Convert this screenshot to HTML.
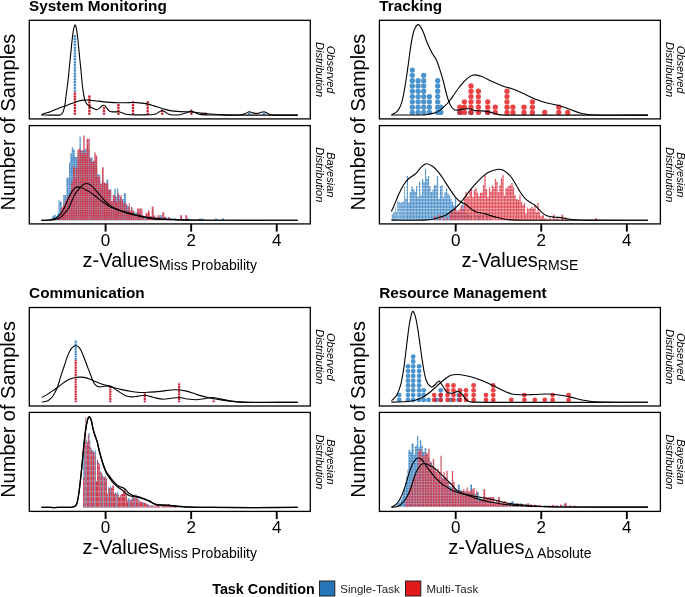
<!DOCTYPE html>
<html><head><meta charset="utf-8"><style>
html,body{margin:0;padding:0;background:#fff;}
svg{display:block;font-family:'Liberation Sans', sans-serif;will-change:transform;}
</style></head><body>
<svg width="685" height="597" viewBox="0 0 685 597">
<rect width="685" height="597" fill="#fff"/>
<defs>
<pattern id="pTRb" width="3" height="3.3" patternUnits="userSpaceOnUse"><rect width="3" height="3.3" fill="#4D90C9"/><rect width="3" height="0.7" fill="#A9CCE6"/></pattern>
<pattern id="pTRr" width="3" height="3.3" patternUnits="userSpaceOnUse"><rect width="3" height="3.3" fill="#DD3A47"/><rect width="3" height="0.7" fill="#EE9CA2"/></pattern>
<pattern id="pSMb" width="2.2" height="2.2" patternUnits="userSpaceOnUse"><rect width="2.2" height="2.2" fill="#4289C6"/><rect width="2.2" height="0.5" fill="#A6C8E4"/><rect width="0.5" height="2.2" fill="#A6C8E4"/></pattern>
<pattern id="pSMr" width="2.2" height="2.2" patternUnits="userSpaceOnUse"><rect width="2.2" height="2.2" fill="#DD2E3C"/><rect width="2.2" height="0.38" fill="#A48CB2"/><rect width="0.38" height="2.2" fill="#A48CB2"/></pattern>
</defs>
<defs>
<pattern id="pRMb" width="2.7" height="2.75" patternUnits="userSpaceOnUse"><rect width="2.7" height="2.75" fill="#4289C6"/><rect width="2.7" height="0.6" fill="#A6C8E4"/><rect width="0.6" height="2.75" fill="#A6C8E4"/></pattern>
<pattern id="pRMr" width="2.7" height="2.75" patternUnits="userSpaceOnUse"><rect width="2.7" height="2.75" fill="#DB3240"/><rect width="2.7" height="0.5" fill="#BE9DB9"/><rect width="0.5" height="2.75" fill="#BE9DB9"/></pattern>
<pattern id="pCOb" width="4.4" height="5.2" patternUnits="userSpaceOnUse"><rect width="4.4" height="5.2" fill="#5A9ACD"/><rect y="2" width="4.4" height="0.9" fill="#A5C6E2"/><rect x="2" width="0.8" height="5.2" fill="#A5C6E2"/></pattern>
<pattern id="pCOr" width="4.4" height="5.2" patternUnits="userSpaceOnUse"><rect width="4.4" height="5.2" fill="#D73442"/><rect y="2" width="4.4" height="0.9" fill="#D98F9B"/><rect x="2" width="0.7" height="5.2" fill="#C593AA"/></pattern>
</defs>
<g transform="translate(0,0.2)">
<path d="M50.75,220.00V218.50H52.30V220.00ZM52.30,220.00V215.60H54.05V220.00ZM54.05,220.00V214.50H55.75V220.00ZM55.75,220.00V216.00H57.00V220.00ZM57.00,220.00V213.30H58.50V220.00ZM58.50,220.00V200.20H60.25V220.00ZM60.25,220.00V201.70H61.75V220.00ZM61.75,220.00V211.00H63.25V220.00ZM63.25,220.00V194.90H64.75V220.00ZM64.75,220.00V194.80H66.25V220.00ZM66.25,220.00V177.80H67.75V220.00ZM67.75,220.00V177.00H69.00V220.00ZM69.00,220.00V162.40H70.25V220.00ZM70.25,220.00V153.00H71.75V220.00ZM71.75,220.00V147.00H73.25V220.00ZM73.25,220.00V149.30H74.75V220.00ZM74.75,220.00V156.50H76.25V220.00ZM76.25,220.00V157.10H77.80V220.00ZM77.80,220.00V159.90H79.30V220.00ZM79.30,220.00V136.20H80.75V220.00ZM80.75,220.00V150.00H82.25V220.00ZM82.25,220.00V150.00H83.75V220.00ZM83.75,220.00V150.00H85.25V220.00ZM85.25,220.00V148.50H86.75V220.00ZM86.75,220.00V150.00H88.25V220.00ZM88.25,220.00V150.00H89.75V220.00ZM89.75,220.00V158.00H91.25V220.00ZM91.25,220.00V157.00H92.75V220.00ZM92.75,220.00V162.00H94.25V220.00ZM94.25,220.00V160.00H95.75V220.00ZM95.75,220.00V165.00H97.25V220.00ZM97.25,220.00V174.00H98.75V220.00ZM98.75,220.00V174.50H100.25V220.00ZM100.25,220.00V184.00H101.75V220.00ZM101.75,220.00V180.00H103.25V220.00ZM103.25,220.00V183.00H104.75V220.00ZM104.75,220.00V183.00H106.50V220.00ZM106.50,220.00V179.30H108.25V220.00ZM108.25,220.00V189.40H109.75V220.00ZM109.75,220.00V189.00H111.25V220.00ZM111.25,220.00V201.00H112.75V220.00ZM112.75,220.00V195.00H114.25V220.00ZM114.25,220.00V188.60H115.75V220.00ZM115.75,220.00V196.00H117.00V220.00ZM117.00,220.00V188.00H118.25V220.00ZM118.25,220.00V195.00H120.00V220.00ZM120.00,220.00V198.00H122.00V220.00ZM122.00,220.00V199.00H123.60V220.00ZM123.60,220.00V193.00H124.70V220.00ZM124.70,220.00V193.00H126.10V220.00ZM126.10,220.00V205.00H128.00V220.00ZM128.00,220.00V206.00H129.75V220.00ZM129.75,220.00V212.40H131.25V220.00ZM131.25,220.00V209.00H132.75V220.00ZM132.75,220.00V211.00H134.75V220.00ZM135.25,220.00V212.00H137.25V220.00ZM137.25,220.00V213.00H139.00V220.00ZM139.00,220.00V213.00H141.25V220.00ZM141.75,220.00V215.20H144.00V220.00ZM144.00,220.00V218.00H146.00V220.00ZM146.00,220.00V216.00H148.25V220.00ZM148.75,220.00V216.50H151.25V220.00ZM151.75,220.00V216.50H154.25V220.00ZM154.75,220.00V217.00H157.25V220.00ZM157.25,220.00V217.00H159.75V220.00ZM159.75,220.00V215.00H162.25V220.00ZM162.75,220.00V217.50H165.00V220.00ZM165.00,220.00V217.00H167.00V220.00ZM167.00,220.00V218.50H169.00V220.00ZM169.00,220.00V217.80H171.00V220.00ZM171.00,220.00V218.00H173.25V220.00ZM173.75,220.00V218.00H176.00V220.00ZM176.00,220.00V219.00H178.25V220.00ZM186.75,220.00V218.00H189.25V220.00ZM198.75,220.00V218.20H201.00V220.00ZM201.00,220.00V218.20H203.25V220.00ZM214.75,220.00V218.20H217.25V220.00ZM221.75,220.00V217.80H223.75V220.00Z" fill="url(#pSMb)" fill-opacity="1.0"/>
<path d="M57.31,220.00V216.30H58.94V220.00ZM59.06,220.00V213.30H60.94V220.00ZM61.06,220.00V207.00H62.94V220.00ZM63.06,220.00V204.00H64.94V220.00ZM65.06,220.00V200.00H66.69V220.00ZM66.81,220.00V196.50H68.19V220.00ZM68.31,220.00V195.00H69.69V220.00ZM69.81,220.00V194.80H70.94V220.00ZM71.06,220.00V183.00H71.94V220.00ZM72.06,220.00V181.00H72.94V220.00ZM73.06,220.00V166.20H74.19V220.00ZM74.31,220.00V167.00H75.24V220.00ZM75.36,220.00V177.40H75.99V220.00ZM76.11,220.00V168.10H77.19V220.00ZM77.31,220.00V149.60H78.69V220.00ZM78.81,220.00V148.20H80.19V220.00ZM80.31,220.00V150.00H81.69V220.00ZM81.81,220.00V153.10H83.19V220.00ZM83.31,220.00V135.40H84.69V220.00ZM84.81,220.00V153.00H86.44V220.00ZM86.56,220.00V138.50H88.19V220.00ZM88.31,220.00V138.50H89.69V220.00ZM89.81,220.00V157.80H91.19V220.00ZM91.31,220.00V161.60H92.69V220.00ZM92.81,220.00V160.80H94.19V220.00ZM94.31,220.00V152.40H95.69V220.00ZM95.81,220.00V155.40H97.19V220.00ZM97.31,220.00V176.30H98.69V220.00ZM98.81,220.00V176.30H100.19V220.00ZM100.31,220.00V183.20H101.94V220.00ZM102.06,220.00V167.00H103.69V220.00ZM103.81,220.00V182.40H105.19V220.00ZM105.31,220.00V183.20H106.69V220.00ZM106.81,220.00V183.00H108.19V220.00ZM108.31,220.00V189.40H109.69V220.00ZM109.81,220.00V190.10H111.19V220.00ZM111.31,220.00V200.90H112.69V220.00ZM112.81,220.00V194.80H114.19V220.00ZM114.31,220.00V195.50H115.69V220.00ZM115.81,220.00V201.50H117.39V220.00ZM117.51,220.00V193.00H118.89V220.00ZM119.01,220.00V200.40H119.89V220.00ZM120.01,220.00V196.00H120.74V220.00ZM120.86,220.00V194.80H121.79V220.00ZM121.91,220.00V200.40H122.94V220.00ZM123.06,220.00V203.00H124.69V220.00ZM125.11,220.00V203.20H126.79V220.00ZM126.91,220.00V210.30H127.79V220.00ZM127.91,220.00V206.00H128.69V220.00ZM128.81,220.00V202.90H129.64V220.00ZM129.76,220.00V210.00H130.84V220.00ZM130.96,220.00V206.80H132.39V220.00ZM132.51,220.00V210.30H133.99V220.00ZM134.11,220.00V213.80H135.34V220.00ZM135.46,220.00V216.00H136.94V220.00ZM137.06,220.00V208.20H138.44V220.00ZM138.56,220.00V208.20H139.44V220.00ZM139.56,220.00V208.20H140.44V220.00ZM140.56,220.00V208.20H141.34V220.00ZM141.46,220.00V208.20H142.34V220.00ZM142.46,220.00V216.50H144.19V220.00ZM145.51,220.00V213.10H147.69V220.00ZM147.81,220.00V210.00H149.14V220.00ZM149.26,220.00V212.00H149.89V220.00ZM150.01,220.00V215.90H151.49V220.00ZM151.71,220.00V206.40H153.64V220.00ZM153.76,220.00V215.20H155.44V220.00ZM155.56,220.00V218.00H157.44V220.00ZM157.56,220.00V215.00H159.44V220.00ZM159.56,220.00V217.50H161.69V220.00ZM162.31,220.00V212.00H164.19V220.00ZM164.31,220.00V216.50H165.94V220.00ZM166.06,220.00V218.50H167.94V220.00ZM168.06,220.00V217.00H169.94V220.00ZM170.06,220.00V219.00H172.19V220.00ZM180.11,220.00V215.00H182.09V220.00ZM182.21,220.00V219.00H184.19V220.00ZM185.31,220.00V215.00H187.19V220.00ZM187.31,220.00V219.00H188.69V220.00Z" fill="url(#pSMr)" fill-opacity="0.96"/>
<path d="M41.40,220.20 C42.93,220.13 44.47,220.11 46.00,220.00 C47.34,219.91 48.68,219.83 50.00,219.60 C51.35,219.36 52.72,219.08 54.00,218.60 C55.22,218.14 56.43,217.53 57.50,216.80 C58.43,216.17 59.27,215.36 60.00,214.50 C60.77,213.59 61.36,212.51 62.00,211.50 C62.69,210.41 63.43,209.35 64.00,208.20 C65.09,206.02 66.00,203.74 67.00,201.50 C67.90,199.47 68.71,197.39 69.70,195.40 C70.51,193.79 71.38,192.18 72.40,190.70 C73.15,189.61 73.94,188.40 75.00,187.70 C75.94,187.07 77.26,186.78 78.40,186.70 C79.26,186.64 80.17,186.99 81.00,187.30 C82.21,187.75 83.34,188.43 84.50,189.00 C85.97,189.73 87.50,190.36 88.90,191.20 C90.43,192.12 91.87,193.22 93.30,194.30 C94.80,195.42 96.24,196.63 97.70,197.80 C99.14,198.96 100.52,200.19 102.00,201.30 C103.42,202.36 104.91,203.34 106.40,204.30 C107.84,205.24 109.27,206.23 110.80,207.00 C112.20,207.70 113.74,208.13 115.20,208.70 C116.80,209.33 118.38,210.02 120.00,210.60 C121.65,211.19 123.33,211.68 125.00,212.20 C126.66,212.72 128.33,213.22 130.00,213.70 C131.66,214.18 133.33,214.66 135.00,215.10 C136.66,215.53 138.33,215.93 140.00,216.30 C141.66,216.67 143.33,216.98 145.00,217.30 C146.66,217.62 148.32,217.98 150.00,218.20 C152.32,218.51 154.66,218.73 157.00,218.90 C159.66,219.10 162.33,219.20 165.00,219.30 C168.33,219.43 171.67,219.52 175.00,219.60 C180.00,219.72 185.00,219.85 190.00,219.90 C203.33,220.02 216.67,220.08 230.00,220.10 C252.60,220.14 275.20,220.10 297.80,220.10" fill="none" stroke="#000" stroke-width="1.1" stroke-linejoin="round"/>
<path d="M41.40,220.20 C44.27,220.13 47.14,220.17 50.00,220.00 C51.67,219.90 53.37,219.76 55.00,219.40 C56.37,219.10 57.74,218.61 59.00,218.00 C60.07,217.48 61.12,216.80 62.00,216.00 C63.12,214.97 63.99,213.66 65.00,212.50 C65.89,211.49 66.98,210.62 67.70,209.50 C68.78,207.82 69.55,205.92 70.40,204.10 C71.32,202.12 72.07,200.07 73.00,198.10 C73.84,196.31 74.66,194.48 75.70,192.80 C76.46,191.58 77.49,190.52 78.40,189.40 C79.25,188.35 80.05,187.25 81.00,186.30 C81.78,185.52 82.65,184.74 83.60,184.20 C84.41,183.74 85.38,183.37 86.30,183.30 C87.15,183.24 88.13,183.41 88.90,183.80 C90.17,184.44 91.34,185.41 92.40,186.40 C93.98,187.88 95.37,189.56 96.80,191.20 C98.31,192.93 99.70,194.76 101.20,196.50 C102.60,198.13 103.98,199.78 105.50,201.30 C106.88,202.68 108.33,204.04 109.90,205.20 C111.26,206.21 112.77,207.07 114.30,207.80 C116.13,208.67 118.08,209.32 120.00,210.00 C121.65,210.59 123.32,211.10 125.00,211.60 C126.66,212.10 128.33,212.53 130.00,213.00 C131.67,213.47 133.33,213.96 135.00,214.40 C136.66,214.83 138.33,215.23 140.00,215.60 C141.66,215.97 143.33,216.30 145.00,216.60 C146.66,216.90 148.33,217.16 150.00,217.40 C152.33,217.73 154.66,218.07 157.00,218.30 C159.66,218.57 162.33,218.74 165.00,218.90 C168.33,219.10 171.66,219.28 175.00,219.40 C180.00,219.58 185.00,219.74 190.00,219.80 C203.33,219.97 216.67,220.06 230.00,220.10 C252.60,220.16 275.20,220.10 297.80,220.10" fill="none" stroke="#000" stroke-width="1.1" stroke-linejoin="round"/>
</g>
<path d="M391.77,220.20V214.00H392.83V220.20ZM393.07,220.20V212.50H393.88V220.20ZM394.12,220.20V212.00H394.88V220.20ZM395.12,220.20V207.30H395.88V220.20ZM396.12,220.20V212.00H396.93V220.20ZM397.17,220.20V200.50H397.93V220.20ZM398.17,220.20V202.00H398.83V220.20ZM399.07,220.20V202.10H399.83V220.20ZM400.07,220.20V203.00H400.88V220.20ZM401.12,220.20V202.60H401.88V220.20ZM402.12,220.20V202.00H402.93V220.20ZM403.17,220.20V201.60H403.98V220.20ZM404.22,220.20V186.50H405.13V220.20ZM405.37,220.20V198.50H406.58V220.20ZM406.82,220.20V176.10H408.03V220.20ZM408.27,220.20V202.60H409.43V220.20ZM409.67,220.20V192.20H411.08V220.20ZM411.32,220.20V186.50H412.83V220.20ZM413.07,220.20V189.60H414.38V220.20ZM414.62,220.20V191.70H415.78V220.20ZM416.02,220.20V186.00H417.23V220.20ZM417.47,220.20V196.90H418.78V220.20ZM419.02,220.20V181.80H420.28V220.20ZM420.52,220.20V195.30H421.73V220.20ZM421.97,220.20V179.20H423.28V220.20ZM423.52,220.20V182.30H424.73V220.20ZM424.97,220.20V169.20H426.13V220.20ZM426.37,220.20V178.50H427.63V220.20ZM427.87,220.20V176.00H429.13V220.20ZM429.37,220.20V186.20H430.63V220.20ZM430.87,220.20V192.20H432.13V220.20ZM432.37,220.20V189.80H433.63V220.20ZM433.87,220.20V185.00H435.13V220.20ZM435.37,220.20V185.00H436.63V220.20ZM436.87,220.20V176.00H438.13V220.20ZM438.37,220.20V198.30H439.63V220.20ZM439.87,220.20V186.20H441.13V220.20ZM441.37,220.20V185.00H442.63V220.20ZM442.87,220.20V197.60H444.13V220.20ZM444.37,220.20V192.20H445.63V220.20ZM445.87,220.20V188.00H447.13V220.20ZM447.37,220.20V193.40H448.63V220.20ZM448.87,220.20V195.20H450.13V220.20ZM450.37,220.20V198.90H451.63V220.20ZM451.87,220.20V201.90H453.13V220.20ZM453.37,220.20V205.50H454.63V220.20ZM454.87,220.20V197.60H456.13V220.20ZM456.37,220.20V210.30H457.63V220.20ZM457.87,220.20V212.70H459.13V220.20ZM459.37,220.20V211.50H460.63V220.20ZM460.87,220.20V205.50H462.13V220.20ZM462.37,220.20V203.00H463.63V220.20ZM463.87,220.20V206.70H465.13V220.20ZM465.37,220.20V212.70H466.88V220.20ZM467.12,220.20V214.00H469.13V220.20ZM469.87,220.20V215.00H472.13V220.20ZM473.87,220.20V214.50H476.13V220.20ZM477.87,220.20V215.50H480.13V220.20ZM481.87,220.20V215.00H484.13V220.20ZM485.87,220.20V215.50H488.13V220.20ZM488.87,220.20V217.50H490.63V220.20Z" fill="url(#pTRb)" fill-opacity="1.0"/>
<path d="M434.37,220.20V215.70H435.53V220.20ZM435.77,220.20V220.10H437.43V220.20ZM438.87,220.20V215.10H440.53V220.20ZM440.77,220.20V220.10H442.43V220.20ZM442.87,220.20V217.50H444.53V220.20ZM444.77,220.20V220.10H446.28V220.20ZM446.52,220.20V217.50H448.03V220.20ZM448.27,220.20V220.10H449.28V220.20ZM449.52,220.20V213.00H450.63V220.20ZM450.87,220.20V212.00H452.13V220.20ZM452.37,220.20V210.00H453.38V220.20ZM453.62,220.20V209.00H454.63V220.20ZM454.87,220.20V207.90H456.13V220.20ZM456.37,220.20V211.50H457.63V220.20ZM457.87,220.20V210.30H459.13V220.20ZM459.37,220.20V208.50H460.63V220.20ZM460.87,220.20V205.50H462.13V220.20ZM462.37,220.20V209.00H463.63V220.20ZM463.87,220.20V198.30H465.13V220.20ZM465.37,220.20V192.20H466.63V220.20ZM466.87,220.20V196.50H467.88V220.20ZM468.12,220.20V196.40H469.13V220.20ZM469.37,220.20V191.00H470.63V220.20ZM470.87,220.20V188.60H472.13V220.20ZM472.37,220.20V197.00H473.63V220.20ZM473.87,220.20V189.80H475.13V220.20ZM475.37,220.20V188.00H476.63V220.20ZM476.87,220.20V192.80H478.13V220.20ZM478.37,220.20V196.40H479.63V220.20ZM479.87,220.20V192.80H481.13V220.20ZM481.37,220.20V192.80H482.63V220.20ZM482.87,220.20V185.00H484.13V220.20ZM484.37,220.20V174.70H485.63V220.20ZM485.87,220.20V189.20H487.13V220.20ZM487.37,220.20V197.00H488.63V220.20ZM488.87,220.20V187.30H490.13V220.20ZM490.37,220.20V191.60H491.63V220.20ZM491.87,220.20V185.00H493.13V220.20ZM493.37,220.20V187.30H494.63V220.20ZM494.87,220.20V178.90H496.13V220.20ZM496.37,220.20V182.00H497.63V220.20ZM497.87,220.20V192.20H499.13V220.20ZM499.37,220.20V185.00H500.63V220.20ZM500.87,220.20V177.70H502.13V220.20ZM502.37,220.20V174.70H503.63V220.20ZM503.87,220.20V195.80H505.13V220.20ZM505.37,220.20V188.00H506.63V220.20ZM506.87,220.20V187.30H508.13V220.20ZM508.37,220.20V185.50H509.63V220.20ZM509.87,220.20V185.00H511.13V220.20ZM511.37,220.20V183.10H512.63V220.20ZM512.87,220.20V187.30H514.13V220.20ZM514.37,220.20V195.00H515.63V220.20ZM515.87,220.20V198.90H517.38V220.20ZM517.62,220.20V200.10H519.13V220.20ZM519.37,220.20V194.70H520.63V220.20ZM520.87,220.20V202.00H522.13V220.20ZM522.37,220.20V205.00H523.63V220.20ZM523.87,220.20V203.10H525.13V220.20ZM525.37,220.20V213.40H526.63V220.20ZM526.87,220.20V207.40H528.13V220.20ZM528.37,220.20V209.20H529.63V220.20ZM529.87,220.20V208.00H531.13V220.20ZM531.37,220.20V206.80H532.63V220.20ZM532.87,220.20V208.60H534.13V220.20ZM534.37,220.20V205.60H535.63V220.20ZM535.87,220.20V212.20H537.13V220.20ZM537.37,220.20V203.10H538.63V220.20ZM538.87,220.20V212.20H540.13V220.20ZM540.37,220.20V216.40H541.88V220.20ZM542.12,220.20V215.20H543.88V220.20ZM544.12,220.20V218.50H545.88V220.20ZM546.12,220.20V218.80H547.63V220.20ZM547.87,220.20V219.50H549.13V220.20ZM549.37,220.20V217.60H550.88V220.20ZM551.12,220.20V219.50H552.88V220.20ZM553.12,220.20V214.60H554.63V220.20ZM554.87,220.20V219.50H556.13V220.20ZM556.37,220.20V217.60H557.88V220.20ZM558.12,220.20V219.50H560.13V220.20ZM561.37,220.20V214.60H563.13V220.20ZM563.37,220.20V219.50H564.63V220.20ZM564.87,220.20V217.20H566.13V220.20ZM566.37,220.20V219.50H568.13V220.20ZM594.87,220.20V218.00H596.63V220.20Z" fill="url(#pTRr)" fill-opacity="0.92"/>
<path d="M391.40,211.50 C392.43,209.17 393.51,206.85 394.50,204.50 C395.54,202.02 396.43,199.47 397.50,197.00 C398.46,194.80 399.52,192.64 400.60,190.50 C401.59,188.54 402.47,186.50 403.70,184.70 C405.20,182.50 406.85,180.29 408.80,178.50 C410.95,176.53 413.84,175.36 416.00,173.40 C417.98,171.60 419.25,169.03 421.20,167.20 C422.69,165.80 424.49,163.86 426.30,163.70 C428.26,163.53 430.70,164.95 432.50,166.20 C434.84,167.82 436.89,170.05 438.70,172.30 C441.02,175.19 442.84,178.49 444.90,181.60 C446.94,184.69 448.91,187.84 451.00,190.90 C452.67,193.34 454.22,195.93 456.20,198.10 C457.66,199.70 459.48,201.02 461.30,202.20 C462.42,202.92 463.89,203.06 465.00,203.80 C466.79,205.00 468.27,206.68 470.00,208.00 C471.60,209.22 473.15,210.67 475.00,211.40 C478.15,212.64 481.69,212.99 485.00,213.90 C488.35,214.82 491.64,215.99 495.00,216.90 C498.31,217.79 501.63,218.76 505.00,219.30 C508.29,219.83 511.66,219.98 515.00,220.10 C519.99,220.28 525.00,220.20 530.00,220.20 C569.33,220.23 608.67,220.20 648.00,220.20" fill="none" stroke="#000" stroke-width="1.1" stroke-linejoin="round"/>
<path d="M391.40,220.10 C402.37,220.10 413.36,220.45 424.30,220.10 C427.76,219.99 431.23,219.44 434.60,218.70 C438.09,217.94 441.65,217.03 444.90,215.60 C447.12,214.63 449.05,212.98 451.00,211.50 C453.15,209.88 455.30,208.20 457.20,206.30 C459.43,204.07 461.41,201.57 463.40,199.10 C465.55,196.43 467.46,193.58 469.60,190.90 C471.56,188.44 473.56,186.01 475.70,183.70 C478.20,181.01 480.69,178.24 483.50,175.90 C485.53,174.21 487.80,172.66 490.20,171.60 C492.77,170.46 495.64,169.72 498.40,169.30 C499.58,169.12 500.88,169.41 502.00,169.80 C503.34,170.27 504.62,171.08 505.80,171.90 C506.88,172.65 507.86,173.57 508.80,174.50 C509.82,175.51 510.88,176.52 511.70,177.70 C513.32,180.02 514.65,182.56 516.10,185.00 C517.55,187.43 518.85,189.95 520.40,192.30 C521.75,194.35 523.15,196.41 524.80,198.20 C526.08,199.58 527.64,200.73 529.20,201.80 C530.81,202.90 532.75,203.54 534.30,204.70 C535.68,205.74 536.77,207.16 538.00,208.40 C539.44,209.86 540.74,211.49 542.30,212.80 C543.64,213.92 545.10,215.06 546.70,215.70 C548.53,216.43 550.62,216.61 552.60,216.90 C554.52,217.18 556.47,217.17 558.40,217.40 C560.34,217.63 562.27,217.98 564.20,218.30 C566.14,218.62 568.06,219.05 570.00,219.30 C571.96,219.55 573.93,219.69 575.90,219.80 C578.93,219.96 581.97,220.08 585.00,220.10 C606.00,220.22 627.00,220.17 648.00,220.20" fill="none" stroke="#000" stroke-width="1.1" stroke-linejoin="round"/>
<g transform="translate(0,0.2)">
<path d="M83.25,507.30V450.80H84.50V507.30ZM84.50,507.30V448.00H85.70V507.30ZM85.70,507.30V439.20H86.95V507.30ZM86.95,507.30V445.00H88.25V507.30ZM88.25,507.30V432.90H89.40V507.30ZM89.40,507.30V440.20H90.40V507.30ZM90.40,507.30V448.00H91.85V507.30ZM91.85,507.30V449.90H93.35V507.30ZM93.35,507.30V452.00H94.80V507.30ZM94.80,507.30V450.30H96.05V507.30ZM96.05,507.30V481.00H97.00V507.30ZM97.00,507.30V461.00H98.00V507.30ZM98.00,507.30V463.00H99.50V507.30ZM99.50,507.30V471.30H101.00V507.30ZM101.00,507.30V474.00H102.00V507.30ZM102.00,507.30V474.20H103.25V507.30ZM103.25,507.30V478.00H104.75V507.30ZM104.75,507.30V475.90H106.00V507.30ZM106.00,507.30V480.00H107.00V507.30ZM107.00,507.30V493.60H108.00V507.30ZM108.00,507.30V486.70H109.00V507.30ZM109.00,507.30V489.00H110.00V507.30ZM110.00,507.30V486.20H111.50V507.30ZM111.50,507.30V488.00H113.50V507.30ZM113.50,507.30V493.60H115.00V507.30ZM115.00,507.30V491.90H116.00V507.30ZM116.00,507.30V494.00H117.00V507.30ZM117.00,507.30V492.40H118.50V507.30ZM118.50,507.30V497.00H120.25V507.30ZM120.25,507.30V496.00H122.25V507.30ZM122.75,507.30V494.00H125.25V507.30ZM125.25,507.30V496.00H127.00V507.30ZM127.00,507.30V500.40H128.00V507.30ZM128.00,507.30V498.10H129.00V507.30ZM129.00,507.30V498.70H130.25V507.30ZM130.25,507.30V500.00H131.75V507.30ZM131.75,507.30V496.40H133.25V507.30ZM133.25,507.30V498.00H134.75V507.30ZM134.75,507.30V494.20H136.75V507.30ZM137.25,507.30V499.40H139.75V507.30ZM141.75,507.30V502.00H144.25V507.30ZM146.25,507.30V503.80H148.75V507.30ZM150.75,507.30V505.00H153.25V507.30ZM156.75,507.30V505.50H159.25V507.30ZM162.75,507.30V505.00H165.25V507.30ZM168.75,507.30V505.50H171.25V507.30ZM173.75,507.30V505.00H176.25V507.30ZM179.75,507.30V505.50H182.25V507.30ZM212.75,507.30V506.20H214.75V507.30Z" fill="url(#pCOb)" fill-opacity="1.0"/>
<path d="M83.05,507.30V478.00H84.35V507.30ZM84.35,507.30V441.00H85.30V507.30ZM85.30,507.30V416.90H86.10V507.30ZM86.10,507.30V441.00H86.90V507.30ZM86.90,507.30V442.00H87.80V507.30ZM87.80,507.30V434.30H88.80V507.30ZM88.80,507.30V441.00H90.00V507.30ZM90.00,507.30V447.00H91.20V507.30ZM91.20,507.30V450.80H92.20V507.30ZM92.20,507.30V452.00H93.15V507.30ZM93.15,507.30V451.30H94.10V507.30ZM94.10,507.30V452.80H95.05V507.30ZM95.05,507.30V455.00H96.00V507.30ZM96.00,507.30V481.00H97.00V507.30ZM97.00,507.30V459.40H98.00V507.30ZM98.00,507.30V462.20H99.00V507.30ZM99.00,507.30V464.00H100.00V507.30ZM100.00,507.30V472.00H101.00V507.30ZM101.00,507.30V472.50H102.00V507.30ZM102.00,507.30V476.00H103.00V507.30ZM103.00,507.30V476.50H104.00V507.30ZM104.00,507.30V477.00H105.00V507.30ZM105.00,507.30V479.00H106.00V507.30ZM106.00,507.30V478.20H107.00V507.30ZM107.00,507.30V493.60H108.00V507.30ZM108.00,507.30V489.00H109.00V507.30ZM109.00,507.30V487.90H110.00V507.30ZM110.00,507.30V489.00H111.00V507.30ZM111.00,507.30V487.90H112.00V507.30ZM112.00,507.30V485.60H113.00V507.30ZM113.00,507.30V485.00H114.00V507.30ZM114.00,507.30V493.60H115.00V507.30ZM115.00,507.30V494.00H116.00V507.30ZM116.00,507.30V493.00H117.00V507.30ZM117.00,507.30V494.00H118.00V507.30ZM118.00,507.30V494.70H119.00V507.30ZM119.00,507.30V497.00H120.00V507.30ZM120.00,507.30V494.70H121.00V507.30ZM121.00,507.30V494.10H122.00V507.30ZM122.00,507.30V493.60H123.00V507.30ZM123.00,507.30V492.40H124.00V507.30ZM124.00,507.30V489.00H125.00V507.30ZM125.00,507.30V490.70H126.00V507.30ZM126.00,507.30V494.70H127.00V507.30ZM127.00,507.30V500.40H128.00V507.30ZM128.00,507.30V500.00H129.00V507.30ZM129.00,507.30V500.00H130.00V507.30ZM130.00,507.30V500.40H131.00V507.30ZM131.00,507.30V499.30H132.00V507.30ZM132.00,507.30V498.50H133.00V507.30ZM133.00,507.30V497.00H134.00V507.30ZM134.00,507.30V498.00H135.00V507.30ZM135.00,507.30V498.00H136.25V507.30ZM136.25,507.30V498.50H137.75V507.30ZM137.75,507.30V500.00H139.25V507.30ZM139.25,507.30V501.20H140.75V507.30ZM140.75,507.30V501.20H142.25V507.30ZM142.25,507.30V502.50H144.00V507.30ZM144.00,507.30V502.90H146.25V507.30ZM146.25,507.30V504.50H148.75V507.30ZM148.75,507.30V505.50H151.00V507.30ZM151.00,507.30V505.50H153.00V507.30ZM153.00,507.30V506.00H155.00V507.30ZM155.00,507.30V504.70H157.00V507.30ZM157.00,507.30V505.10H159.00V507.30ZM159.00,507.30V506.00H161.25V507.30ZM161.75,507.30V504.70H164.25V507.30ZM164.25,507.30V504.20H166.25V507.30ZM166.25,507.30V504.20H168.00V507.30ZM168.00,507.30V503.80H170.00V507.30ZM170.00,507.30V505.50H171.50V507.30ZM171.50,507.30V506.40H173.00V507.30ZM173.00,507.30V506.00H175.00V507.30ZM175.00,507.30V505.50H177.00V507.30ZM177.00,507.30V506.50H179.25V507.30ZM183.75,507.30V506.00H186.25V507.30ZM188.75,507.30V506.50H190.75V507.30Z" fill="url(#pCOr)" fill-opacity="0.94"/>
<path d="M83.85,507.3V450.80H84.55V507.3ZM86.05,507.3V439.20H86.75V507.3ZM88.85,507.3V432.90H89.55V507.3ZM92.35,507.3V449.90H93.05V507.3ZM95.25,507.3V450.30H95.95V507.3ZM100.15,507.3V471.30H100.85V507.3ZM102.15,507.3V474.20H102.85V507.3ZM105.15,507.3V475.90H105.85V507.3ZM108.15,507.3V486.70H108.85V507.3ZM110.15,507.3V486.20H110.85V507.3ZM115.15,507.3V491.90H115.85V507.3ZM117.15,507.3V492.40H117.85V507.3ZM128.15,507.3V498.10H128.85V507.3ZM129.15,507.3V498.70H129.85V507.3ZM132.15,507.3V496.40H132.85V507.3ZM135.25,507.3V494.20H135.95V507.3ZM138.25,507.3V499.40H138.95V507.3ZM142.75,507.3V502.00H143.45V507.3ZM147.25,507.3V503.80H147.95V507.3ZM151.75,507.3V505.00H152.45V507.3Z" fill="#6FA6D4" fill-opacity="0.85"/>
<path d="M41.40,507.30 C44.27,507.30 47.13,507.30 50.00,507.30 C52.67,507.30 55.33,507.31 58.00,507.30 C60.33,507.29 62.67,507.29 65.00,507.25 C66.67,507.22 68.34,507.22 70.00,507.10 C71.34,507.00 72.85,507.14 74.00,506.60 C75.05,506.11 76.19,505.11 76.60,504.00 C77.75,500.91 78.18,497.36 78.70,494.00 C79.54,488.60 80.08,483.14 80.70,477.70 C81.18,473.47 81.59,469.24 82.00,465.00 C82.39,461.00 82.72,457.00 83.10,453.00 C83.52,448.67 83.93,444.33 84.40,440.00 C84.76,436.66 85.11,433.32 85.60,430.00 C86.07,426.82 86.59,423.63 87.30,420.50 C87.56,419.36 87.96,418.19 88.50,417.20 C88.66,416.89 89.12,416.56 89.40,416.60 C89.75,416.66 90.22,417.10 90.40,417.50 C90.95,418.74 91.28,420.15 91.60,421.50 C92.14,423.78 92.43,426.13 93.00,428.40 C93.56,430.63 94.29,432.81 95.00,435.00 C95.66,437.01 96.53,438.96 97.10,441.00 C97.93,443.96 98.44,447.02 99.20,450.00 C100.00,453.15 100.87,456.29 101.80,459.40 C102.47,461.62 103.20,463.82 104.00,466.00 C104.73,467.99 105.38,470.06 106.40,471.90 C107.31,473.56 108.66,474.97 109.80,476.50 C110.93,478.01 111.97,479.59 113.20,481.00 C114.27,482.22 115.47,483.34 116.70,484.40 C117.41,485.01 118.19,485.53 119.00,486.00 C119.69,486.40 120.45,486.70 121.20,487.00 C121.79,487.23 122.43,487.33 123.00,487.60 C123.57,487.87 124.12,488.20 124.60,488.60 C125.29,489.17 125.90,489.83 126.50,490.50 C127.04,491.10 127.39,491.89 128.00,492.40 C129.06,493.29 130.26,494.10 131.50,494.70 C132.59,495.23 133.82,495.47 135.00,495.80 C135.99,496.07 137.00,496.25 138.00,496.50 C139.00,496.75 140.02,496.96 141.00,497.30 C142.69,497.89 144.33,498.63 146.00,499.30 C147.33,499.83 148.73,500.25 150.00,500.90 C151.06,501.45 151.95,502.32 153.00,502.90 C153.95,503.42 154.96,503.93 156.00,504.20 C157.29,504.53 158.66,504.61 160.00,504.70 C163.33,504.91 166.67,504.86 170.00,505.10 C172.67,505.29 175.33,505.75 178.00,506.00 C182.00,506.38 185.99,506.84 190.00,507.00 C196.66,507.27 203.33,507.28 210.00,507.30 C239.27,507.38 268.53,507.30 297.80,507.30" fill="none" stroke="#000" stroke-width="1.25" stroke-linejoin="round"/>
<path d="M41.40,507.30 C44.27,507.30 47.13,507.30 50.00,507.30 C52.67,507.30 55.33,507.31 58.00,507.30 C60.33,507.29 62.67,507.29 65.00,507.25 C66.67,507.22 68.34,507.22 70.00,507.10 C71.34,507.00 72.85,507.14 74.00,506.60 C75.05,506.11 76.19,505.11 76.60,504.00 C77.75,500.91 78.18,497.36 78.70,494.00 C79.54,488.60 80.08,483.14 80.70,477.70 C81.18,473.47 81.59,469.24 82.00,465.00 C82.39,461.00 82.72,457.00 83.10,453.00 C83.52,448.67 83.93,444.33 84.40,440.00 C84.76,436.66 85.11,433.32 85.60,430.00 C86.07,426.82 86.59,423.63 87.30,420.50 C87.56,419.36 87.96,418.19 88.50,417.20 C88.66,416.89 89.12,416.56 89.40,416.60 C89.75,416.66 90.22,417.10 90.40,417.50 C90.95,418.74 91.28,420.15 91.60,421.50 C92.15,423.85 92.43,426.26 93.00,428.60 C93.56,430.92 94.27,433.22 95.00,435.50 C95.64,437.52 96.54,439.46 97.10,441.50 C97.94,444.56 98.43,447.72 99.20,450.80 C100.00,453.98 100.88,457.15 101.80,460.30 C102.48,462.62 103.18,464.93 104.00,467.20 C104.71,469.17 105.43,471.16 106.40,473.00 C107.36,474.82 108.61,476.51 109.80,478.20 C110.88,479.74 111.92,481.34 113.20,482.70 C114.59,484.17 116.22,485.43 117.80,486.70 C119.28,487.89 120.92,488.90 122.40,490.10 C123.96,491.36 125.29,492.94 126.90,494.10 C127.92,494.84 129.10,495.46 130.30,495.80 C131.80,496.23 133.45,496.12 135.00,496.40 C136.02,496.58 137.00,496.93 138.00,497.20 C139.00,497.47 140.02,497.68 141.00,498.00 C142.68,498.55 144.35,499.16 146.00,499.80 C147.35,500.32 148.71,500.85 150.00,501.50 C151.04,502.02 151.96,502.78 153.00,503.30 C153.96,503.78 154.96,504.25 156.00,504.50 C157.30,504.81 158.66,504.91 160.00,505.00 C163.33,505.21 166.67,505.16 170.00,505.40 C172.67,505.59 175.33,506.09 178.00,506.30 C181.99,506.62 186.00,506.87 190.00,507.00 C196.66,507.21 203.33,507.28 210.00,507.30 C239.27,507.38 268.53,507.30 297.80,507.30" fill="none" stroke="#000" stroke-width="1.25" stroke-linejoin="round"/>
</g>
<path d="M396.25,507.10V504.50H397.65V507.10ZM397.65,507.10V503.00H399.15V507.10ZM399.15,507.10V502.00H400.60V507.10ZM400.60,507.10V499.50H401.75V507.10ZM401.75,507.10V496.80H402.85V507.10ZM402.85,507.10V493.40H403.95V507.10ZM403.95,507.10V487.70H405.10V507.10ZM405.10,507.10V482.00H406.25V507.10ZM406.25,507.10V476.40H407.35V507.10ZM407.35,507.10V469.50H408.30V507.10ZM408.30,507.10V450.20H409.30V507.10ZM409.30,507.10V449.70H410.45V507.10ZM410.45,507.10V451.90H411.55V507.10ZM411.55,507.10V443.40H412.70V507.10ZM412.70,507.10V443.40H413.85V507.10ZM413.85,507.10V454.80H414.95V507.10ZM414.95,507.10V446.30H415.95V507.10ZM415.95,507.10V445.30H417.00V507.10ZM417.00,507.10V436.00H418.30V507.10ZM418.30,507.10V447.40H419.75V507.10ZM419.75,507.10V440.10H421.25V507.10ZM421.25,507.10V445.40H422.75V507.10ZM422.75,507.10V452.00H424.50V507.10ZM424.50,507.10V448.10H426.25V507.10ZM426.25,507.10V455.00H428.00V507.10ZM428.00,507.10V458.00H430.00V507.10ZM430.00,507.10V462.00H432.00V507.10ZM432.00,507.10V465.00H434.00V507.10ZM434.00,507.10V470.00H436.00V507.10ZM436.00,507.10V481.00H438.00V507.10ZM438.00,507.10V478.00H440.00V507.10ZM440.00,507.10V476.00H442.00V507.10ZM442.00,507.10V478.00H443.75V507.10ZM443.75,507.10V477.60H445.25V507.10ZM445.25,507.10V480.00H447.00V507.10ZM447.00,507.10V482.00H449.00V507.10ZM449.00,507.10V486.00H451.00V507.10ZM451.00,507.10V487.00H453.00V507.10ZM453.00,507.10V488.00H455.00V507.10ZM455.00,507.10V489.00H457.25V507.10ZM457.75,507.10V484.60H460.00V507.10ZM460.00,507.10V490.00H462.00V507.10ZM462.00,507.10V491.00H464.00V507.10ZM464.00,507.10V492.00H466.00V507.10ZM466.00,507.10V491.00H468.00V507.10ZM468.00,507.10V492.00H470.00V507.10ZM470.00,507.10V484.60H472.00V507.10ZM472.00,507.10V492.00H474.00V507.10ZM474.00,507.10V494.00H476.25V507.10ZM476.75,507.10V492.00H479.00V507.10ZM479.00,507.10V498.00H481.25V507.10ZM481.75,507.10V499.00H484.25V507.10ZM484.75,507.10V500.00H487.25V507.10ZM488.75,507.10V501.00H491.25V507.10ZM492.75,507.10V502.00H495.25V507.10ZM496.75,507.10V502.50H499.25V507.10ZM501.75,507.10V503.00H504.25V507.10ZM505.75,507.10V503.50H508.25V507.10ZM511.25,507.10V501.20H513.75V507.10ZM514.75,507.10V503.20H517.25V507.10ZM519.75,507.10V503.20H522.25V507.10ZM524.75,507.10V504.50H527.25V507.10ZM529.75,507.10V505.00H532.25V507.10ZM534.75,507.10V505.00H537.25V507.10ZM543.75,507.10V505.50H546.25V507.10ZM563.75,507.10V504.00H565.75V507.10Z" fill="url(#pRMb)" fill-opacity="1.0"/>
<path d="M405.03,507.10V501.40H406.17V507.10ZM406.33,507.10V499.00H407.17V507.10ZM407.33,507.10V495.00H408.02V507.10ZM408.18,507.10V491.00H408.97V507.10ZM409.13,507.10V488.00H410.12V507.10ZM410.28,507.10V485.50H411.17V507.10ZM411.33,507.10V482.50H412.02V507.10ZM412.18,507.10V479.80H412.97V507.10ZM413.13,507.10V476.40H413.97V507.10ZM414.13,507.10V475.00H414.82V507.10ZM414.98,507.10V474.00H415.67V507.10ZM415.83,507.10V473.50H416.52V507.10ZM416.68,507.10V472.90H417.52V507.10ZM417.68,507.10V451.70H418.62V507.10ZM418.78,507.10V450.00H419.52V507.10ZM419.68,507.10V448.80H420.42V507.10ZM420.58,507.10V450.10H421.27V507.10ZM421.43,507.10V451.00H422.27V507.10ZM422.43,507.10V456.20H423.67V507.10ZM423.83,507.10V455.50H425.17V507.10ZM425.33,507.10V452.80H426.67V507.10ZM426.83,507.10V453.50H428.17V507.10ZM428.33,507.10V448.80H429.67V507.10ZM429.83,507.10V461.70H431.17V507.10ZM431.33,507.10V467.60H432.67V507.10ZM432.83,507.10V458.80H434.17V507.10ZM434.33,507.10V468.20H435.67V507.10ZM435.83,507.10V471.70H437.17V507.10ZM437.33,507.10V468.80H438.67V507.10ZM438.83,507.10V471.70H440.17V507.10ZM440.33,507.10V455.80H441.67V507.10ZM441.83,507.10V478.70H443.17V507.10ZM443.33,507.10V472.30H444.67V507.10ZM444.83,507.10V477.60H446.17V507.10ZM446.33,507.10V471.10H447.67V507.10ZM447.83,507.10V481.10H449.17V507.10ZM449.33,507.10V489.30H450.42V507.10ZM450.58,507.10V491.60H451.67V507.10ZM451.83,507.10V471.10H453.17V507.10ZM453.33,507.10V481.70H454.67V507.10ZM454.83,507.10V489.30H456.17V507.10ZM456.33,507.10V493.40H457.92V507.10ZM458.08,507.10V490.00H459.67V507.10ZM459.83,507.10V492.80H461.17V507.10ZM461.33,507.10V491.10H462.92V507.10ZM463.08,507.10V489.30H464.67V507.10ZM464.83,507.10V491.60H466.42V507.10ZM466.58,507.10V487.50H468.17V507.10ZM468.33,507.10V491.60H469.92V507.10ZM470.08,507.10V490.00H471.67V507.10ZM471.83,507.10V489.30H473.17V507.10ZM473.33,507.10V488.10H474.67V507.10ZM474.83,507.10V496.30H475.92V507.10ZM476.08,507.10V491.00H477.17V507.10ZM477.33,507.10V501.00H478.92V507.10ZM479.08,507.10V500.60H480.92V507.10ZM481.08,507.10V499.60H483.17V507.10ZM483.33,507.10V488.90H485.17V507.10ZM485.33,507.10V497.00H486.92V507.10ZM487.08,507.10V497.60H488.92V507.10ZM489.08,507.10V497.00H490.92V507.10ZM491.08,507.10V497.00H492.67V507.10ZM492.83,507.10V497.00H494.42V507.10ZM494.58,507.10V502.70H496.17V507.10ZM496.33,507.10V500.00H497.92V507.10ZM498.08,507.10V497.00H499.92V507.10ZM500.08,507.10V502.70H501.92V507.10ZM502.08,507.10V502.00H503.92V507.10ZM504.08,507.10V501.20H505.92V507.10ZM506.08,507.10V503.00H508.17V507.10ZM508.83,507.10V503.20H511.17V507.10ZM512.83,507.10V504.00H515.17V507.10ZM516.83,507.10V503.20H519.17V507.10ZM520.83,507.10V504.00H523.17V507.10ZM526.83,507.10V503.20H529.17V507.10ZM529.83,507.10V504.50H532.17V507.10ZM533.83,507.10V504.70H536.17V507.10ZM538.83,507.10V505.00H541.17V507.10ZM547.83,507.10V505.50H550.17V507.10ZM551.83,507.10V505.00H554.17V507.10ZM555.83,507.10V505.50H558.17V507.10ZM559.83,507.10V504.80H562.17V507.10ZM564.33,507.10V502.90H566.67V507.10ZM568.83,507.10V505.50H571.17V507.10ZM573.83,507.10V505.80H576.17V507.10ZM578.83,507.10V506.00H580.67V507.10Z" fill="url(#pRMr)" fill-opacity="0.94"/>
<path d="M391.40,507.10 C392.27,506.67 393.18,506.31 394.00,505.80 C394.72,505.35 395.36,504.76 396.00,504.20 C396.69,503.60 397.46,503.04 398.00,502.30 C398.96,500.97 399.75,499.48 400.50,498.00 C401.45,496.11 402.35,494.18 403.10,492.20 C404.22,489.25 405.15,486.22 406.10,483.20 C407.15,479.85 408.00,476.43 409.10,473.10 C410.00,470.40 410.92,467.68 412.10,465.10 C412.92,463.31 413.86,461.47 415.10,460.00 C415.86,459.10 417.06,458.00 418.10,458.00 C419.42,458.00 421.15,458.97 422.20,460.00 C423.85,461.63 424.81,464.04 426.20,466.00 C427.58,467.94 429.05,469.81 430.50,471.70 C431.82,473.41 433.07,475.18 434.50,476.80 C435.81,478.28 437.27,479.63 438.70,481.00 C439.94,482.19 441.13,483.48 442.50,484.50 C443.86,485.51 445.45,486.21 446.90,487.10 C448.61,488.15 450.22,489.40 452.00,490.30 C453.65,491.13 455.45,491.69 457.20,492.30 C458.78,492.85 460.39,493.32 462.00,493.80 C464.66,494.59 467.36,495.27 470.00,496.10 C471.69,496.63 473.33,497.31 475.00,497.90 C476.66,498.48 478.30,499.14 480.00,499.60 C483.30,500.50 486.64,501.31 490.00,502.00 C493.31,502.68 496.65,503.21 500.00,503.70 C503.32,504.18 506.66,504.57 510.00,504.90 C513.33,505.23 516.66,505.49 520.00,505.70 C525.00,506.02 530.00,506.34 535.00,506.50 C543.33,506.77 551.67,506.96 560.00,507.00 C589.33,507.16 618.67,507.07 648.00,507.10" fill="none" stroke="#000" stroke-width="1.1" stroke-linejoin="round"/>
<path d="M391.40,507.10 C391.93,507.17 392.47,507.36 393.00,507.30 C394.67,507.10 396.49,506.97 398.00,506.30 C399.49,505.64 400.83,504.47 402.00,503.30 C403.53,501.77 404.96,500.04 406.10,498.20 C407.66,495.68 408.97,492.95 410.10,490.20 C411.30,487.28 412.10,484.20 413.10,481.20 C414.10,478.17 414.86,475.02 416.10,472.10 C416.86,470.32 417.93,468.63 419.10,467.10 C419.96,465.97 421.01,464.78 422.20,464.10 C423.04,463.62 424.22,463.52 425.20,463.60 C426.16,463.68 427.09,464.20 428.00,464.60 C429.53,465.27 431.08,465.93 432.50,466.80 C433.92,467.67 435.23,468.73 436.50,469.80 C437.99,471.06 439.39,472.44 440.80,473.80 C442.22,475.17 443.60,476.60 445.00,478.00 C446.33,479.33 447.68,480.65 449.00,482.00 C450.35,483.38 451.68,484.79 453.00,486.20 C454.42,487.72 455.61,489.53 457.20,490.80 C458.27,491.66 459.71,492.07 461.00,492.60 C462.31,493.14 463.65,493.59 465.00,494.00 C466.65,494.49 468.32,494.93 470.00,495.30 C473.32,496.03 476.66,496.68 480.00,497.30 C483.32,497.92 486.69,498.32 490.00,499.00 C493.36,499.69 496.66,500.65 500.00,501.40 C503.32,502.15 506.65,502.91 510.00,503.50 C513.31,504.08 516.66,504.53 520.00,504.90 C523.32,505.27 526.66,505.47 530.00,505.70 C535.00,506.04 540.00,506.38 545.00,506.60 C550.00,506.82 555.00,506.98 560.00,507.00 C589.33,507.14 618.67,507.07 648.00,507.10" fill="none" stroke="#000" stroke-width="1.1" stroke-linejoin="round"/>
<g transform="translate(0,0.3)">
<circle cx="74.90" cy="113.45" r="1.35" fill="#CE2A3A" fill-opacity="1"/><circle cx="74.90" cy="110.58" r="1.35" fill="#CE2A3A" fill-opacity="1"/><circle cx="74.90" cy="107.71" r="1.35" fill="#CE2A3A" fill-opacity="1"/><circle cx="74.90" cy="104.84" r="1.35" fill="#CE2A3A" fill-opacity="1"/><circle cx="74.90" cy="101.97" r="1.35" fill="#CE2A3A" fill-opacity="1"/><circle cx="74.90" cy="99.10" r="1.35" fill="#CE2A3A" fill-opacity="1"/><circle cx="74.90" cy="96.23" r="1.35" fill="#CE2A3A" fill-opacity="1"/><circle cx="74.90" cy="93.36" r="1.35" fill="#CE2A3A" fill-opacity="1"/>
<circle cx="74.90" cy="90.49" r="1.35" fill="#4A93CC" fill-opacity="1"/><circle cx="74.90" cy="87.62" r="1.35" fill="#4A93CC" fill-opacity="1"/><circle cx="74.90" cy="84.75" r="1.35" fill="#4A93CC" fill-opacity="1"/><circle cx="74.90" cy="81.88" r="1.35" fill="#4A93CC" fill-opacity="1"/><circle cx="74.90" cy="79.01" r="1.35" fill="#4A93CC" fill-opacity="1"/><circle cx="74.90" cy="76.14" r="1.35" fill="#4A93CC" fill-opacity="1"/><circle cx="74.90" cy="73.27" r="1.35" fill="#4A93CC" fill-opacity="1"/><circle cx="74.90" cy="70.40" r="1.35" fill="#4A93CC" fill-opacity="1"/><circle cx="74.90" cy="67.53" r="1.35" fill="#4A93CC" fill-opacity="1"/><circle cx="74.90" cy="64.66" r="1.35" fill="#4A93CC" fill-opacity="1"/><circle cx="74.90" cy="61.79" r="1.35" fill="#4A93CC" fill-opacity="1"/><circle cx="74.90" cy="58.92" r="1.35" fill="#4A93CC" fill-opacity="1"/><circle cx="74.90" cy="56.05" r="1.35" fill="#4A93CC" fill-opacity="1"/><circle cx="74.90" cy="53.18" r="1.35" fill="#4A93CC" fill-opacity="1"/><circle cx="74.90" cy="50.31" r="1.35" fill="#4A93CC" fill-opacity="1"/><circle cx="74.90" cy="47.44" r="1.35" fill="#4A93CC" fill-opacity="1"/><circle cx="74.90" cy="44.57" r="1.35" fill="#4A93CC" fill-opacity="1"/><circle cx="74.90" cy="41.70" r="1.35" fill="#4A93CC" fill-opacity="1"/><circle cx="74.90" cy="38.83" r="1.35" fill="#4A93CC" fill-opacity="1"/><circle cx="74.90" cy="35.96" r="1.35" fill="#4A93CC" fill-opacity="1"/>
<circle cx="89.40" cy="113.45" r="1.35" fill="#CE2A3A" fill-opacity="1"/><circle cx="89.40" cy="110.58" r="1.35" fill="#CE2A3A" fill-opacity="1"/><circle cx="89.40" cy="107.71" r="1.35" fill="#CE2A3A" fill-opacity="1"/><circle cx="89.40" cy="104.84" r="1.35" fill="#CE2A3A" fill-opacity="1"/><circle cx="89.40" cy="101.97" r="1.35" fill="#CE2A3A" fill-opacity="1"/><circle cx="89.40" cy="99.10" r="1.35" fill="#CE2A3A" fill-opacity="1"/><circle cx="89.40" cy="96.23" r="1.35" fill="#CE2A3A" fill-opacity="1"/>
<circle cx="104.00" cy="113.45" r="1.35" fill="#CE2A3A" fill-opacity="1"/><circle cx="104.00" cy="110.58" r="1.35" fill="#CE2A3A" fill-opacity="1"/><circle cx="104.00" cy="107.71" r="1.35" fill="#CE2A3A" fill-opacity="1"/>
<circle cx="118.40" cy="113.45" r="1.35" fill="#CE2A3A" fill-opacity="1"/><circle cx="118.40" cy="110.58" r="1.35" fill="#CE2A3A" fill-opacity="1"/><circle cx="118.40" cy="107.71" r="1.35" fill="#CE2A3A" fill-opacity="1"/><circle cx="118.40" cy="104.84" r="1.35" fill="#CE2A3A" fill-opacity="1"/>
<circle cx="133.00" cy="113.45" r="1.35" fill="#CE2A3A" fill-opacity="1"/><circle cx="133.00" cy="110.58" r="1.35" fill="#CE2A3A" fill-opacity="1"/><circle cx="133.00" cy="107.71" r="1.35" fill="#CE2A3A" fill-opacity="1"/><circle cx="133.00" cy="104.84" r="1.35" fill="#CE2A3A" fill-opacity="1"/><circle cx="133.00" cy="101.97" r="1.35" fill="#CE2A3A" fill-opacity="1"/>
<circle cx="147.70" cy="113.45" r="1.35" fill="#CE2A3A" fill-opacity="1"/><circle cx="147.70" cy="110.58" r="1.35" fill="#CE2A3A" fill-opacity="1"/><circle cx="147.70" cy="107.71" r="1.35" fill="#CE2A3A" fill-opacity="1"/><circle cx="147.70" cy="104.84" r="1.35" fill="#CE2A3A" fill-opacity="1"/><circle cx="147.70" cy="101.97" r="1.35" fill="#CE2A3A" fill-opacity="1"/>
<circle cx="162.20" cy="113.45" r="1.35" fill="#CE2A3A" fill-opacity="1"/><circle cx="162.20" cy="110.58" r="1.35" fill="#CE2A3A" fill-opacity="1"/>
<circle cx="191.30" cy="113.45" r="1.35" fill="#CE2A3A" fill-opacity="1"/><circle cx="191.30" cy="110.58" r="1.35" fill="#CE2A3A" fill-opacity="1"/>
<circle cx="205.50" cy="113.45" r="1.35" fill="#CE2A3A" fill-opacity="1"/>

<circle cx="249.30" cy="113.45" r="1.35" fill="#4A93CC" fill-opacity="1"/>

<circle cx="264.00" cy="113.45" r="1.35" fill="#4A93CC" fill-opacity="1"/>
<path d="M41.40,114.70 C44.27,114.73 47.13,114.78 50.00,114.80 C52.67,114.82 55.34,114.85 58.00,114.80 C58.74,114.79 59.55,114.88 60.20,114.60 C60.95,114.28 61.64,113.63 62.20,113.00 C62.68,112.46 63.07,111.79 63.30,111.10 C63.97,109.09 64.52,107.00 64.90,104.90 C65.39,102.16 65.55,99.36 65.90,96.60 C66.35,93.13 66.87,89.67 67.30,86.20 C67.73,82.74 68.13,79.27 68.50,75.80 C68.87,72.34 69.15,68.87 69.50,65.40 C69.85,61.93 70.25,58.47 70.60,55.00 C71.11,50.00 71.54,44.99 72.10,40.00 C72.47,36.66 72.88,33.32 73.40,30.00 C73.61,28.65 73.91,27.30 74.30,26.00 C74.46,25.47 74.81,24.50 75.07,24.50 C75.34,24.50 75.74,25.46 75.90,26.00 C76.28,27.29 76.50,28.66 76.70,30.00 C77.19,33.32 77.59,36.66 77.95,40.00 C78.49,44.99 78.90,50.00 79.40,55.00 C79.75,58.47 80.15,61.93 80.50,65.40 C80.85,68.87 81.17,72.33 81.50,75.80 C81.83,79.27 82.07,82.75 82.50,86.20 C82.93,89.68 83.47,93.15 84.10,96.60 C84.34,97.92 84.64,99.25 85.10,100.50 C85.44,101.45 85.89,102.41 86.50,103.20 C87.29,104.21 88.27,105.13 89.30,105.90 C90.40,106.73 91.65,107.40 92.90,108.00 C93.99,108.53 95.16,109.24 96.30,109.30 C97.20,109.34 98.20,108.80 99.00,108.30 C99.94,107.70 100.58,106.63 101.50,106.00 C102.18,105.53 103.07,104.92 103.80,105.00 C104.57,105.09 105.40,105.86 106.00,106.50 C106.97,107.53 107.47,109.07 108.50,110.00 C109.27,110.70 110.38,111.15 111.40,111.40 C112.54,111.68 113.80,111.58 115.00,111.60 C116.17,111.62 117.36,111.35 118.50,111.50 C119.69,111.65 120.85,112.12 122.00,112.50 C123.35,112.95 124.63,113.66 126.00,114.00 C127.29,114.32 128.66,114.44 130.00,114.50 C133.33,114.64 136.67,114.60 140.00,114.60 C143.33,114.60 146.68,114.71 150.00,114.50 C152.01,114.37 154.11,114.20 156.00,113.60 C157.27,113.20 158.31,112.15 159.50,111.50 C160.37,111.02 161.30,110.20 162.20,110.20 C163.13,110.20 164.10,111.00 165.00,111.50 C166.37,112.27 167.57,113.43 169.00,114.00 C170.23,114.49 171.65,114.65 173.00,114.70 C175.32,114.78 177.72,114.79 180.00,114.40 C182.05,114.05 184.00,113.14 186.00,112.50 C187.67,111.97 189.35,110.85 191.00,110.90 C192.68,110.95 194.31,112.23 196.00,112.80 C197.65,113.36 199.29,114.07 201.00,114.30 C203.95,114.70 207.00,114.67 210.00,114.70 C220.00,114.80 230.04,115.04 240.00,114.70 C241.71,114.64 243.39,114.05 245.00,113.50 C246.49,112.99 247.83,111.67 249.30,111.50 C250.50,111.37 251.75,112.29 253.00,112.60 C254.15,112.89 255.34,113.33 256.50,113.30 C257.67,113.27 258.83,112.68 260.00,112.40 C261.33,112.08 262.71,111.36 264.00,111.50 C265.38,111.66 266.64,112.77 268.00,113.30 C269.31,113.81 270.62,114.43 272.00,114.60 C274.62,114.93 277.33,114.78 280.00,114.80 C285.93,114.85 291.87,114.80 297.80,114.80" fill="none" stroke="#000" stroke-width="1.1" stroke-linejoin="round"/>
<path d="M41.40,114.60 C42.20,114.20 42.96,113.70 43.80,113.40 C45.73,112.70 47.76,112.28 49.70,111.60 C51.66,110.91 53.57,110.08 55.50,109.30 C57.47,108.51 59.41,107.65 61.40,106.90 C63.31,106.18 65.28,105.61 67.20,104.90 C69.15,104.18 71.04,103.30 73.00,102.60 C74.98,101.90 76.97,101.21 79.00,100.70 C80.67,100.28 82.39,99.92 84.10,99.80 C86.05,99.66 88.04,99.79 90.00,99.90 C91.67,99.99 93.34,100.21 95.00,100.40 C97.34,100.67 99.66,101.04 102.00,101.30 C104.66,101.60 107.33,101.90 110.00,102.10 C112.66,102.30 115.33,102.45 118.00,102.50 C120.67,102.55 123.33,102.45 126.00,102.40 C128.33,102.35 130.67,102.17 133.00,102.20 C135.33,102.23 137.68,102.37 140.00,102.60 C142.34,102.83 144.70,103.11 147.00,103.60 C149.37,104.11 151.68,104.89 154.00,105.60 C156.68,106.42 159.31,107.41 162.00,108.20 C164.64,108.98 167.29,109.83 170.00,110.30 C173.29,110.87 176.66,111.09 180.00,111.30 C183.66,111.53 187.34,111.34 191.00,111.60 C194.01,111.81 197.00,112.37 200.00,112.70 C203.33,113.07 206.66,113.45 210.00,113.70 C214.99,114.08 220.00,114.42 225.00,114.60 C230.00,114.78 235.00,114.79 240.00,114.80 C259.27,114.85 278.53,114.80 297.80,114.80" fill="none" stroke="#000" stroke-width="1.1" stroke-linejoin="round"/>
</g><g transform="translate(0,0.3)">
<circle cx="412.30" cy="112.15" r="2.65" fill="#4A93CC" fill-opacity="1"/><circle cx="412.30" cy="106.85" r="2.65" fill="#4A93CC" fill-opacity="1"/><circle cx="412.30" cy="101.55" r="2.65" fill="#4A93CC" fill-opacity="1"/><circle cx="412.30" cy="96.25" r="2.65" fill="#4A93CC" fill-opacity="1"/><circle cx="412.30" cy="90.95" r="2.65" fill="#4A93CC" fill-opacity="1"/><circle cx="412.30" cy="85.65" r="2.65" fill="#4A93CC" fill-opacity="1"/><circle cx="412.30" cy="80.35" r="2.65" fill="#4A93CC" fill-opacity="1"/><circle cx="412.30" cy="75.05" r="2.65" fill="#4A93CC" fill-opacity="1"/><circle cx="412.30" cy="69.75" r="2.65" fill="#4A93CC" fill-opacity="1"/>
<circle cx="418.10" cy="112.15" r="2.65" fill="#4A93CC" fill-opacity="1"/><circle cx="418.10" cy="106.85" r="2.65" fill="#4A93CC" fill-opacity="1"/><circle cx="418.10" cy="101.55" r="2.65" fill="#4A93CC" fill-opacity="1"/><circle cx="418.10" cy="96.25" r="2.65" fill="#4A93CC" fill-opacity="1"/><circle cx="418.10" cy="90.95" r="2.65" fill="#4A93CC" fill-opacity="1"/><circle cx="418.10" cy="85.65" r="2.65" fill="#4A93CC" fill-opacity="1"/><circle cx="418.10" cy="80.35" r="2.65" fill="#4A93CC" fill-opacity="1"/>
<circle cx="423.70" cy="112.15" r="2.65" fill="#4A93CC" fill-opacity="1"/><circle cx="423.70" cy="106.85" r="2.65" fill="#4A93CC" fill-opacity="1"/><circle cx="423.70" cy="101.55" r="2.65" fill="#4A93CC" fill-opacity="1"/><circle cx="423.70" cy="96.25" r="2.65" fill="#4A93CC" fill-opacity="1"/><circle cx="423.70" cy="90.95" r="2.65" fill="#4A93CC" fill-opacity="1"/><circle cx="423.70" cy="85.65" r="2.65" fill="#4A93CC" fill-opacity="1"/><circle cx="423.70" cy="80.35" r="2.65" fill="#4A93CC" fill-opacity="1"/><circle cx="423.70" cy="75.05" r="2.65" fill="#4A93CC" fill-opacity="1"/>
<circle cx="429.40" cy="112.15" r="2.65" fill="#4A93CC" fill-opacity="1"/><circle cx="429.40" cy="106.85" r="2.65" fill="#4A93CC" fill-opacity="1"/><circle cx="429.40" cy="101.55" r="2.65" fill="#4A93CC" fill-opacity="1"/><circle cx="429.40" cy="96.25" r="2.65" fill="#4A93CC" fill-opacity="1"/>
<circle cx="437.70" cy="112.15" r="2.65" fill="#4A93CC" fill-opacity="1"/><circle cx="437.70" cy="106.85" r="2.65" fill="#4A93CC" fill-opacity="1"/><circle cx="437.70" cy="101.55" r="2.65" fill="#4A93CC" fill-opacity="1"/><circle cx="437.70" cy="96.25" r="2.65" fill="#4A93CC" fill-opacity="1"/><circle cx="437.70" cy="90.95" r="2.65" fill="#4A93CC" fill-opacity="1"/><circle cx="437.70" cy="85.65" r="2.65" fill="#4A93CC" fill-opacity="1"/><circle cx="437.70" cy="80.35" r="2.65" fill="#4A93CC" fill-opacity="1"/>
<circle cx="440.80" cy="112.15" r="2.65" fill="#4A93CC" fill-opacity="1"/><circle cx="440.80" cy="106.85" r="2.65" fill="#4A93CC" fill-opacity="1"/>
<circle cx="459.90" cy="112.15" r="2.65" fill="#4A93CC" fill-opacity="1"/>
<circle cx="471.00" cy="112.15" r="2.65" fill="#4A93CC" fill-opacity="1"/>
<circle cx="487.70" cy="112.15" r="2.65" fill="#4A93CC" fill-opacity="1"/>
<circle cx="459.90" cy="112.15" r="2.65" fill="#E41A1C" fill-opacity="0.82"/><circle cx="459.90" cy="106.85" r="2.65" fill="#E41A1C" fill-opacity="0.82"/>
<circle cx="464.40" cy="112.15" r="2.65" fill="#E41A1C" fill-opacity="0.82"/><circle cx="464.40" cy="106.85" r="2.65" fill="#E41A1C" fill-opacity="0.82"/><circle cx="464.40" cy="101.55" r="2.65" fill="#E41A1C" fill-opacity="0.82"/>
<circle cx="471.00" cy="112.15" r="2.65" fill="#E41A1C" fill-opacity="0.82"/><circle cx="471.00" cy="106.85" r="2.65" fill="#E41A1C" fill-opacity="0.82"/><circle cx="471.00" cy="101.55" r="2.65" fill="#E41A1C" fill-opacity="0.82"/><circle cx="471.00" cy="96.25" r="2.65" fill="#E41A1C" fill-opacity="0.82"/><circle cx="471.00" cy="90.95" r="2.65" fill="#E41A1C" fill-opacity="0.82"/><circle cx="471.00" cy="85.65" r="2.65" fill="#E41A1C" fill-opacity="0.82"/>
<circle cx="478.40" cy="112.15" r="2.65" fill="#E41A1C" fill-opacity="0.82"/><circle cx="478.40" cy="106.85" r="2.65" fill="#E41A1C" fill-opacity="0.82"/><circle cx="478.40" cy="101.55" r="2.65" fill="#E41A1C" fill-opacity="0.82"/><circle cx="478.40" cy="96.25" r="2.65" fill="#E41A1C" fill-opacity="0.82"/><circle cx="478.40" cy="90.95" r="2.65" fill="#E41A1C" fill-opacity="0.82"/>
<circle cx="487.70" cy="112.15" r="2.65" fill="#E41A1C" fill-opacity="0.82"/><circle cx="487.70" cy="106.85" r="2.65" fill="#E41A1C" fill-opacity="0.82"/><circle cx="487.70" cy="101.55" r="2.65" fill="#E41A1C" fill-opacity="0.82"/>
<circle cx="495.30" cy="112.15" r="2.65" fill="#E41A1C" fill-opacity="0.82"/><circle cx="495.30" cy="106.85" r="2.65" fill="#E41A1C" fill-opacity="0.82"/>
<circle cx="507.00" cy="112.15" r="2.65" fill="#E41A1C" fill-opacity="0.82"/><circle cx="507.00" cy="106.85" r="2.65" fill="#E41A1C" fill-opacity="0.82"/><circle cx="507.00" cy="101.55" r="2.65" fill="#E41A1C" fill-opacity="0.82"/><circle cx="507.00" cy="96.25" r="2.65" fill="#E41A1C" fill-opacity="0.82"/><circle cx="507.00" cy="90.95" r="2.65" fill="#E41A1C" fill-opacity="0.82"/>
<circle cx="512.90" cy="112.15" r="2.65" fill="#E41A1C" fill-opacity="0.82"/><circle cx="512.90" cy="106.85" r="2.65" fill="#E41A1C" fill-opacity="0.82"/>
<circle cx="524.00" cy="112.15" r="2.65" fill="#E41A1C" fill-opacity="0.82"/><circle cx="524.00" cy="106.85" r="2.65" fill="#E41A1C" fill-opacity="0.82"/>
<circle cx="532.40" cy="112.15" r="2.65" fill="#E41A1C" fill-opacity="0.82"/><circle cx="532.40" cy="106.85" r="2.65" fill="#E41A1C" fill-opacity="0.82"/><circle cx="532.40" cy="101.55" r="2.65" fill="#E41A1C" fill-opacity="0.82"/>
<circle cx="544.70" cy="112.15" r="2.65" fill="#E41A1C" fill-opacity="0.82"/>
<circle cx="558.80" cy="112.15" r="2.65" fill="#E41A1C" fill-opacity="0.82"/><circle cx="558.80" cy="106.85" r="2.65" fill="#E41A1C" fill-opacity="0.82"/>
<circle cx="567.70" cy="112.15" r="2.65" fill="#E41A1C" fill-opacity="0.82"/>
<path d="M391.40,114.70 C393.43,113.40 396.01,112.58 397.50,110.80 C399.41,108.52 400.68,105.42 401.60,102.50 C403.08,97.82 403.84,92.86 404.70,88.00 C405.90,81.20 406.81,74.34 407.80,67.50 C408.88,60.01 409.65,52.46 410.90,45.00 C411.72,40.13 412.40,35.10 414.00,30.50 C414.80,28.20 416.65,24.48 418.10,24.30 C419.39,24.14 421.23,27.54 422.20,29.50 C424.33,33.78 425.50,38.57 427.40,43.00 C428.93,46.57 430.65,50.08 432.50,53.50 C433.35,55.08 434.65,56.42 435.50,58.00 C436.45,59.75 437.20,61.63 437.90,63.50 C438.83,65.96 439.61,68.49 440.40,71.00 C441.35,74.02 442.27,77.05 443.10,80.10 C444.01,83.45 444.72,86.85 445.60,90.20 C446.39,93.21 447.12,96.25 448.10,99.20 C448.78,101.25 449.51,103.36 450.60,105.20 C451.51,106.73 452.67,108.42 454.10,109.30 C455.17,109.96 456.77,109.87 458.10,109.80 C459.81,109.71 461.48,108.99 463.20,108.80 C465.45,108.55 467.79,108.22 470.00,108.50 C471.72,108.72 473.28,110.00 475.00,110.30 C477.24,110.70 479.61,110.37 481.90,110.60 C484.68,110.87 487.48,111.19 490.20,111.80 C492.98,112.42 495.62,113.74 498.40,114.30 C500.55,114.74 502.79,114.79 505.00,114.80 C552.66,114.96 600.33,114.80 648.00,114.80" fill="none" stroke="#000" stroke-width="1.1" stroke-linejoin="round"/>
<path d="M391.40,114.70 C400.93,114.70 410.47,114.78 420.00,114.70 C422.00,114.68 424.01,114.62 426.00,114.40 C427.35,114.25 428.67,113.87 430.00,113.60 C431.33,113.33 432.70,113.17 434.00,112.80 C435.36,112.41 436.79,112.03 438.00,111.30 C439.83,110.19 441.51,108.75 443.10,107.30 C445.21,105.38 447.27,103.38 449.10,101.20 C450.94,99.01 452.43,96.53 454.10,94.20 C455.77,91.87 457.35,89.47 459.10,87.20 C460.72,85.10 462.35,82.98 464.20,81.10 C465.98,79.28 467.87,77.42 470.00,76.10 C471.37,75.25 473.11,74.57 474.70,74.60 C477.08,74.64 479.61,75.42 481.90,76.30 C485.44,77.66 488.72,79.73 492.20,81.30 C495.59,82.83 499.01,84.33 502.50,85.60 C505.87,86.83 509.43,87.56 512.80,88.80 C516.43,90.13 519.97,91.72 523.50,93.30 C527.37,95.02 531.07,97.13 535.00,98.70 C538.91,100.26 542.94,101.60 547.00,102.70 C550.94,103.77 555.08,104.10 559.00,105.20 C562.91,106.30 566.66,107.96 570.50,109.30 C574.32,110.63 578.08,112.30 582.00,113.20 C585.91,114.10 589.97,114.60 594.00,114.70 C611.97,115.14 630.00,114.77 648.00,114.80" fill="none" stroke="#000" stroke-width="1.1" stroke-linejoin="round"/>
</g><g transform="translate(0,0.35)">
<line x1="75.7" y1="402.0" x2="75.7" y2="359.5" stroke="#C8283A" stroke-width="2.2" stroke-dasharray="1.9 0.5"/>
<line x1="75.7" y1="359.5" x2="75.7" y2="339.8" stroke="#3F8BC8" stroke-width="2.2" stroke-dasharray="1.9 0.5"/>
<line x1="110.3" y1="402.0" x2="110.3" y2="385.2" stroke="#C8283A" stroke-width="2.2" stroke-dasharray="1.9 0.5"/>
<line x1="144.8" y1="402.0" x2="144.8" y2="393.0" stroke="#C8283A" stroke-width="2.2" stroke-dasharray="1.9 0.5"/>
<line x1="179.1" y1="402.0" x2="179.1" y2="382.4" stroke="#C8283A" stroke-width="2.2" stroke-dasharray="1.9 0.5"/>
<line x1="213.6" y1="402.0" x2="213.6" y2="399.5" stroke="#C8283A" stroke-width="2.2" stroke-dasharray="1.9 0.5"/>
<path d="M41.80,401.60 C43.87,401.20 46.23,401.37 48.00,400.40 C50.00,399.30 51.77,397.33 53.10,395.40 C54.93,392.73 56.29,389.64 57.50,386.60 C58.79,383.34 59.52,379.85 60.60,376.50 C61.82,372.72 63.13,368.96 64.40,365.20 C65.66,361.46 66.66,357.61 68.20,354.00 C69.16,351.74 70.35,349.44 71.90,347.60 C72.85,346.47 74.43,345.10 75.70,345.10 C76.97,345.10 78.62,346.43 79.50,347.60 C81.12,349.76 82.11,352.54 83.20,355.10 C84.61,358.41 85.73,361.84 87.00,365.20 C88.26,368.54 89.49,371.89 90.80,375.20 C91.79,377.69 92.56,380.33 93.90,382.60 C94.66,383.90 95.84,385.17 97.10,385.90 C98.14,386.50 99.57,386.60 100.80,386.60 C102.07,386.60 103.32,386.03 104.60,385.90 C106.49,385.70 108.59,385.00 110.30,385.60 C112.89,386.50 115.06,388.86 117.50,390.40 C120.19,392.10 122.81,394.08 125.70,395.30 C127.61,396.11 129.82,396.42 131.90,396.50 C133.92,396.58 135.97,396.05 138.00,395.80 C140.30,395.52 142.61,394.86 144.90,394.90 C146.61,394.93 148.31,395.58 150.00,396.00 C152.21,396.55 154.38,397.30 156.60,397.80 C158.64,398.26 160.72,398.84 162.80,398.90 C165.19,398.97 167.60,398.47 170.00,398.20 C173.00,397.87 176.01,397.03 179.00,397.10 C181.68,397.16 184.31,398.24 187.00,398.60 C189.98,399.00 193.01,399.44 196.00,399.40 C198.67,399.37 201.34,398.79 204.00,398.40 C206.61,398.02 209.20,397.08 211.80,397.10 C214.73,397.12 217.68,397.94 220.60,398.50 C224.12,399.17 227.56,400.29 231.10,400.80 C235.69,401.46 240.35,401.92 245.00,402.00 C262.59,402.32 280.20,402.00 297.80,402.00" fill="none" stroke="#000" stroke-width="1.1" stroke-linejoin="round"/>
<path d="M41.80,397.20 C43.87,395.97 45.95,394.75 48.00,393.50 C49.71,392.45 51.44,391.43 53.10,390.30 C54.81,389.13 56.44,387.84 58.10,386.60 C59.77,385.34 61.37,383.97 63.10,382.80 C65.13,381.43 67.18,380.00 69.40,379.00 C71.38,378.10 73.56,377.52 75.70,377.10 C77.33,376.78 79.04,376.70 80.70,376.80 C82.81,376.93 84.96,377.23 87.00,377.80 C89.16,378.40 91.21,379.45 93.30,380.30 C95.81,381.32 98.26,382.48 100.80,383.40 C102.86,384.15 105.00,384.66 107.10,385.30 C109.40,386.00 111.68,386.76 114.00,387.40 C116.52,388.09 119.05,388.76 121.60,389.30 C125.01,390.02 128.45,390.66 131.90,391.20 C134.59,391.62 137.29,392.11 140.00,392.20 C143.32,392.31 146.67,392.00 150.00,391.80 C153.34,391.60 156.67,391.32 160.00,391.00 C165.00,390.52 170.00,389.50 175.00,389.40 C178.50,389.33 182.08,389.74 185.50,390.50 C189.68,391.44 193.66,393.30 197.80,394.50 C201.83,395.67 205.90,396.74 210.00,397.60 C214.63,398.57 219.31,399.35 224.00,400.00 C228.65,400.65 233.32,401.24 238.00,401.50 C245.32,401.91 252.67,401.94 260.00,402.00 C272.60,402.11 285.20,402.00 297.80,402.00" fill="none" stroke="#000" stroke-width="1.1" stroke-linejoin="round"/>
</g>
<circle cx="399.20" cy="399.90" r="2.4" fill="#4A93CC" fill-opacity="1"/><circle cx="399.20" cy="395.10" r="2.4" fill="#4A93CC" fill-opacity="1"/>
<circle cx="408.00" cy="399.90" r="2.4" fill="#4A93CC" fill-opacity="1"/><circle cx="408.00" cy="395.10" r="2.4" fill="#4A93CC" fill-opacity="1"/><circle cx="408.00" cy="390.30" r="2.4" fill="#4A93CC" fill-opacity="1"/><circle cx="408.00" cy="385.50" r="2.4" fill="#4A93CC" fill-opacity="1"/><circle cx="408.00" cy="380.70" r="2.4" fill="#4A93CC" fill-opacity="1"/><circle cx="408.00" cy="375.90" r="2.4" fill="#4A93CC" fill-opacity="1"/><circle cx="408.00" cy="371.10" r="2.4" fill="#4A93CC" fill-opacity="1"/><circle cx="408.00" cy="366.30" r="2.4" fill="#4A93CC" fill-opacity="1"/>
<circle cx="413.20" cy="399.90" r="2.4" fill="#4A93CC" fill-opacity="1"/><circle cx="413.20" cy="395.10" r="2.4" fill="#4A93CC" fill-opacity="1"/><circle cx="413.20" cy="390.30" r="2.4" fill="#4A93CC" fill-opacity="1"/><circle cx="413.20" cy="385.50" r="2.4" fill="#4A93CC" fill-opacity="1"/><circle cx="413.20" cy="380.70" r="2.4" fill="#4A93CC" fill-opacity="1"/><circle cx="413.20" cy="375.90" r="2.4" fill="#4A93CC" fill-opacity="1"/><circle cx="413.20" cy="371.10" r="2.4" fill="#4A93CC" fill-opacity="1"/><circle cx="413.20" cy="366.30" r="2.4" fill="#4A93CC" fill-opacity="1"/><circle cx="413.20" cy="361.50" r="2.4" fill="#4A93CC" fill-opacity="1"/><circle cx="413.20" cy="356.70" r="2.4" fill="#4A93CC" fill-opacity="1"/>
<circle cx="419.10" cy="399.90" r="2.4" fill="#4A93CC" fill-opacity="1"/><circle cx="419.10" cy="395.10" r="2.4" fill="#4A93CC" fill-opacity="1"/><circle cx="419.10" cy="390.30" r="2.4" fill="#4A93CC" fill-opacity="1"/><circle cx="419.10" cy="385.50" r="2.4" fill="#4A93CC" fill-opacity="1"/><circle cx="419.10" cy="380.70" r="2.4" fill="#4A93CC" fill-opacity="1"/><circle cx="419.10" cy="375.90" r="2.4" fill="#4A93CC" fill-opacity="1"/><circle cx="419.10" cy="371.10" r="2.4" fill="#4A93CC" fill-opacity="1"/><circle cx="419.10" cy="366.30" r="2.4" fill="#4A93CC" fill-opacity="1"/>
<circle cx="423.70" cy="399.90" r="2.4" fill="#4A93CC" fill-opacity="1"/><circle cx="423.70" cy="395.10" r="2.4" fill="#4A93CC" fill-opacity="1"/><circle cx="423.70" cy="390.30" r="2.4" fill="#4A93CC" fill-opacity="1"/>
<circle cx="428.60" cy="399.90" r="2.4" fill="#4A93CC" fill-opacity="1"/>
<circle cx="436.00" cy="399.90" r="2.4" fill="#4A93CC" fill-opacity="1"/>
<circle cx="440.70" cy="399.90" r="2.4" fill="#4A93CC" fill-opacity="1"/><circle cx="440.70" cy="395.10" r="2.4" fill="#4A93CC" fill-opacity="1"/><circle cx="440.70" cy="390.30" r="2.4" fill="#4A93CC" fill-opacity="1"/>
<circle cx="450.70" cy="399.90" r="2.4" fill="#4A93CC" fill-opacity="1"/>
<circle cx="458.70" cy="399.90" r="2.4" fill="#4A93CC" fill-opacity="1"/><circle cx="458.70" cy="395.10" r="2.4" fill="#4A93CC" fill-opacity="1"/>
<circle cx="434.20" cy="399.90" r="2.4" fill="#E41A1C" fill-opacity="0.82"/><circle cx="434.20" cy="395.10" r="2.4" fill="#E41A1C" fill-opacity="0.82"/>
<circle cx="440.70" cy="399.90" r="2.4" fill="#E41A1C" fill-opacity="0.82"/><circle cx="440.70" cy="395.10" r="2.4" fill="#E41A1C" fill-opacity="0.82"/>
<circle cx="447.50" cy="399.90" r="2.4" fill="#E41A1C" fill-opacity="0.82"/><circle cx="447.50" cy="395.10" r="2.4" fill="#E41A1C" fill-opacity="0.82"/><circle cx="447.50" cy="390.30" r="2.4" fill="#E41A1C" fill-opacity="0.82"/><circle cx="447.50" cy="385.50" r="2.4" fill="#E41A1C" fill-opacity="0.82"/>
<circle cx="453.50" cy="399.90" r="2.4" fill="#E41A1C" fill-opacity="0.82"/><circle cx="453.50" cy="395.10" r="2.4" fill="#E41A1C" fill-opacity="0.82"/><circle cx="453.50" cy="390.30" r="2.4" fill="#E41A1C" fill-opacity="0.82"/><circle cx="453.50" cy="385.50" r="2.4" fill="#E41A1C" fill-opacity="0.82"/>
<circle cx="460.00" cy="399.90" r="2.4" fill="#E41A1C" fill-opacity="0.82"/><circle cx="460.00" cy="395.10" r="2.4" fill="#E41A1C" fill-opacity="0.82"/><circle cx="460.00" cy="390.30" r="2.4" fill="#E41A1C" fill-opacity="0.82"/>
<circle cx="466.00" cy="399.90" r="2.4" fill="#E41A1C" fill-opacity="0.82"/><circle cx="466.00" cy="395.10" r="2.4" fill="#E41A1C" fill-opacity="0.82"/><circle cx="466.00" cy="390.30" r="2.4" fill="#E41A1C" fill-opacity="0.82"/>
<circle cx="473.60" cy="399.90" r="2.4" fill="#E41A1C" fill-opacity="0.82"/><circle cx="473.60" cy="395.10" r="2.4" fill="#E41A1C" fill-opacity="0.82"/><circle cx="473.60" cy="390.30" r="2.4" fill="#E41A1C" fill-opacity="0.82"/><circle cx="473.60" cy="385.50" r="2.4" fill="#E41A1C" fill-opacity="0.82"/>
<circle cx="486.00" cy="399.90" r="2.4" fill="#E41A1C" fill-opacity="0.82"/><circle cx="486.00" cy="395.10" r="2.4" fill="#E41A1C" fill-opacity="0.82"/>
<circle cx="493.20" cy="399.90" r="2.4" fill="#E41A1C" fill-opacity="0.82"/><circle cx="493.20" cy="395.10" r="2.4" fill="#E41A1C" fill-opacity="0.82"/><circle cx="493.20" cy="390.30" r="2.4" fill="#E41A1C" fill-opacity="0.82"/><circle cx="493.20" cy="385.50" r="2.4" fill="#E41A1C" fill-opacity="0.82"/>
<circle cx="511.30" cy="399.90" r="2.4" fill="#E41A1C" fill-opacity="0.82"/>
<circle cx="524.40" cy="399.90" r="2.4" fill="#E41A1C" fill-opacity="0.82"/><circle cx="524.40" cy="395.10" r="2.4" fill="#E41A1C" fill-opacity="0.82"/>
<circle cx="534.80" cy="399.90" r="2.4" fill="#E41A1C" fill-opacity="0.82"/>
<circle cx="544.70" cy="399.90" r="2.4" fill="#E41A1C" fill-opacity="0.82"/>
<circle cx="552.60" cy="399.90" r="2.4" fill="#E41A1C" fill-opacity="0.82"/><circle cx="552.60" cy="395.10" r="2.4" fill="#E41A1C" fill-opacity="0.82"/>
<circle cx="568.60" cy="399.90" r="2.4" fill="#E41A1C" fill-opacity="0.82"/><circle cx="568.60" cy="395.10" r="2.4" fill="#E41A1C" fill-opacity="0.82"/>
<path d="M391.40,400.70 C393.10,398.97 395.28,397.55 396.50,395.50 C398.35,392.38 399.64,388.75 400.60,385.20 C402.04,379.85 402.87,374.30 403.70,368.80 C404.94,360.57 405.74,352.26 406.80,344.00 C407.68,337.16 408.30,330.28 409.50,323.50 C410.23,319.38 411.27,312.65 412.60,311.30 C413.31,310.58 415.07,315.15 415.60,317.30 C417.24,324.01 418.04,331.02 419.10,337.90 C420.37,346.12 421.21,354.40 422.60,362.60 C423.61,368.60 424.26,374.92 426.30,380.50 C427.22,383.02 429.56,386.13 431.50,386.90 C432.66,387.36 434.30,385.19 435.60,384.20 C436.84,383.26 438.09,380.80 439.10,381.10 C440.49,381.50 441.56,384.57 442.80,386.30 C444.16,388.20 445.14,390.68 446.90,392.00 C448.24,393.01 450.38,393.39 452.10,393.30 C454.18,393.19 456.38,391.18 458.30,391.40 C459.82,391.58 461.24,393.26 462.40,394.50 C463.98,396.19 464.77,398.77 466.50,400.20 C467.84,401.31 469.79,402.08 471.60,402.10 C530.29,402.78 589.20,402.23 648.00,402.30" fill="none" stroke="#000" stroke-width="1.1" stroke-linejoin="round"/>
<path d="M391.40,402.10 C397.57,401.83 403.80,402.04 409.90,401.30 C413.40,400.87 416.97,399.96 420.20,398.60 C423.13,397.36 425.83,395.42 428.40,393.50 C431.30,391.32 433.87,388.70 436.60,386.30 C439.37,383.87 441.98,381.23 444.90,379.00 C446.78,377.56 448.80,376.04 451.00,375.30 C453.27,374.54 455.88,374.40 458.30,374.50 C461.38,374.63 464.48,375.30 467.50,376.00 C470.98,376.80 474.43,377.82 477.80,379.00 C481.30,380.22 484.72,381.68 488.10,383.20 C491.59,384.78 494.92,386.71 498.40,388.30 C502.82,390.31 507.17,392.80 511.80,394.00 C515.53,394.97 519.60,394.72 523.50,394.80 C527.43,394.88 531.37,394.63 535.30,394.50 C539.20,394.37 543.11,393.92 547.00,394.00 C550.94,394.08 554.89,394.48 558.80,395.00 C562.72,395.52 566.63,396.28 570.50,397.10 C574.46,397.94 578.33,399.21 582.30,400.00 C586.17,400.77 590.06,401.66 594.00,401.80 C611.96,402.43 630.00,402.13 648.00,402.30" fill="none" stroke="#000" stroke-width="1.1" stroke-linejoin="round"/>
<rect x="29.3" y="20.3" width="281.00" height="98.60" fill="none" stroke="#000" stroke-width="1.3"/>
<rect x="29.3" y="125.6" width="281.00" height="98.30" fill="none" stroke="#000" stroke-width="1.3"/>
<line x1="105.60" y1="223.9" x2="105.60" y2="231.60" stroke="#000" stroke-width="1.9"/>
<text x="105.60" y="245.70" font-size="17" font-weight="normal" font-style="normal" text-anchor="middle" fill="#000" >0</text>
<line x1="191.16" y1="223.9" x2="191.16" y2="231.60" stroke="#000" stroke-width="1.9"/>
<text x="191.16" y="245.70" font-size="17" font-weight="normal" font-style="normal" text-anchor="middle" fill="#000" >2</text>
<line x1="276.72" y1="223.9" x2="276.72" y2="231.60" stroke="#000" stroke-width="1.9"/>
<text x="276.72" y="245.70" font-size="17" font-weight="normal" font-style="normal" text-anchor="middle" fill="#000" >4</text>
<rect x="29.3" y="307.5" width="281.00" height="98.50" fill="none" stroke="#000" stroke-width="1.3"/>
<rect x="29.3" y="412.4" width="281.00" height="99.00" fill="none" stroke="#000" stroke-width="1.3"/>
<line x1="105.60" y1="511.4" x2="105.60" y2="519.10" stroke="#000" stroke-width="1.9"/>
<text x="105.60" y="532.90" font-size="17" font-weight="normal" font-style="normal" text-anchor="middle" fill="#000" >0</text>
<line x1="191.16" y1="511.4" x2="191.16" y2="519.10" stroke="#000" stroke-width="1.9"/>
<text x="191.16" y="532.90" font-size="17" font-weight="normal" font-style="normal" text-anchor="middle" fill="#000" >2</text>
<line x1="276.72" y1="511.4" x2="276.72" y2="519.10" stroke="#000" stroke-width="1.9"/>
<text x="276.72" y="532.90" font-size="17" font-weight="normal" font-style="normal" text-anchor="middle" fill="#000" >4</text>
<rect x="379.4" y="20.3" width="281.00" height="98.60" fill="none" stroke="#000" stroke-width="1.3"/>
<rect x="379.4" y="125.6" width="281.00" height="98.30" fill="none" stroke="#000" stroke-width="1.3"/>
<line x1="455.70" y1="223.9" x2="455.70" y2="231.60" stroke="#000" stroke-width="1.9"/>
<text x="455.70" y="245.70" font-size="17" font-weight="normal" font-style="normal" text-anchor="middle" fill="#000" >0</text>
<line x1="541.26" y1="223.9" x2="541.26" y2="231.60" stroke="#000" stroke-width="1.9"/>
<text x="541.26" y="245.70" font-size="17" font-weight="normal" font-style="normal" text-anchor="middle" fill="#000" >2</text>
<line x1="626.82" y1="223.9" x2="626.82" y2="231.60" stroke="#000" stroke-width="1.9"/>
<text x="626.82" y="245.70" font-size="17" font-weight="normal" font-style="normal" text-anchor="middle" fill="#000" >4</text>
<rect x="379.4" y="307.5" width="281.00" height="98.50" fill="none" stroke="#000" stroke-width="1.3"/>
<rect x="379.4" y="412.4" width="281.00" height="99.00" fill="none" stroke="#000" stroke-width="1.3"/>
<line x1="455.70" y1="511.4" x2="455.70" y2="519.10" stroke="#000" stroke-width="1.9"/>
<text x="455.70" y="532.90" font-size="17" font-weight="normal" font-style="normal" text-anchor="middle" fill="#000" >0</text>
<line x1="541.26" y1="511.4" x2="541.26" y2="519.10" stroke="#000" stroke-width="1.9"/>
<text x="541.26" y="532.90" font-size="17" font-weight="normal" font-style="normal" text-anchor="middle" fill="#000" >2</text>
<line x1="626.82" y1="511.4" x2="626.82" y2="519.10" stroke="#000" stroke-width="1.9"/>
<text x="626.82" y="532.90" font-size="17" font-weight="normal" font-style="normal" text-anchor="middle" fill="#000" >4</text>
<text x="29.10" y="10.90" font-size="15.3" font-weight="bold" font-style="normal" text-anchor="start" fill="#000" >System Monitoring</text>
<text x="169.80" y="266.50" font-size="20" text-anchor="middle">z-Values<tspan font-size="14" dy="3.8">Miss Probability</tspan></text>
<text transform="translate(15.30,122.10) rotate(-90)" font-size="20" text-anchor="middle">Number of Samples</text>
<text transform="translate(327.30,69.60) rotate(90)" font-size="11" font-style="italic" text-anchor="middle"><tspan x="0" y="0">Observed</tspan><tspan x="0" y="11.5">Distribution</tspan></text>
<text transform="translate(327.30,174.75) rotate(90)" font-size="11" font-style="italic" text-anchor="middle"><tspan x="0" y="0">Bayesian</tspan><tspan x="0" y="11.5">Distribution</tspan></text>
<text x="379.20" y="10.90" font-size="15.3" font-weight="bold" font-style="normal" text-anchor="start" fill="#000" >Tracking</text>
<text x="519.90" y="266.50" font-size="20" text-anchor="middle">z-Values<tspan font-size="14" dy="3.8">RMSE</tspan></text>
<text transform="translate(365.40,122.10) rotate(-90)" font-size="20" text-anchor="middle">Number of Samples</text>
<text transform="translate(677.40,69.60) rotate(90)" font-size="11" font-style="italic" text-anchor="middle"><tspan x="0" y="0">Observed</tspan><tspan x="0" y="11.5">Distribution</tspan></text>
<text transform="translate(677.40,174.75) rotate(90)" font-size="11" font-style="italic" text-anchor="middle"><tspan x="0" y="0">Bayesian</tspan><tspan x="0" y="11.5">Distribution</tspan></text>
<text x="29.10" y="298.10" font-size="15.3" font-weight="bold" font-style="normal" text-anchor="start" fill="#000" >Communication</text>
<text x="169.80" y="554.30" font-size="20" text-anchor="middle">z-Values<tspan font-size="14" dy="3.8">Miss Probability</tspan></text>
<text transform="translate(15.30,409.45) rotate(-90)" font-size="20" text-anchor="middle">Number of Samples</text>
<text transform="translate(327.30,356.75) rotate(90)" font-size="11" font-style="italic" text-anchor="middle"><tspan x="0" y="0">Observed</tspan><tspan x="0" y="11.5">Distribution</tspan></text>
<text transform="translate(327.30,461.90) rotate(90)" font-size="11" font-style="italic" text-anchor="middle"><tspan x="0" y="0">Bayesian</tspan><tspan x="0" y="11.5">Distribution</tspan></text>
<text x="379.20" y="298.10" font-size="15.3" font-weight="bold" font-style="normal" text-anchor="start" fill="#000" >Resource Management</text>
<text x="519.90" y="554.30" font-size="20" text-anchor="middle">z-Values<tspan font-size="14" dy="3.8">Δ Absolute</tspan></text>
<text transform="translate(365.40,409.45) rotate(-90)" font-size="20" text-anchor="middle">Number of Samples</text>
<text transform="translate(677.40,356.75) rotate(90)" font-size="11" font-style="italic" text-anchor="middle"><tspan x="0" y="0">Observed</tspan><tspan x="0" y="11.5">Distribution</tspan></text>
<text transform="translate(677.40,461.90) rotate(90)" font-size="11" font-style="italic" text-anchor="middle"><tspan x="0" y="0">Bayesian</tspan><tspan x="0" y="11.5">Distribution</tspan></text>
<text x="212.20" y="593.80" font-size="14.35" font-weight="bold" font-style="normal" text-anchor="start" fill="#000" >Task Condition</text>
<rect x="319.5" y="581" width="15.3" height="15" fill="#2575B7" stroke="#222" stroke-width="1"/>
<text x="340.30" y="593.20" font-size="11.5" font-weight="normal" font-style="normal" text-anchor="start" fill="#222" >Single-Task</text>
<rect x="405.5" y="581" width="15.3" height="15" fill="#E31A1C" stroke="#222" stroke-width="1"/>
<text x="426.40" y="593.20" font-size="11.5" font-weight="normal" font-style="normal" text-anchor="start" fill="#222" >Multi-Task</text>
</svg></body></html>
